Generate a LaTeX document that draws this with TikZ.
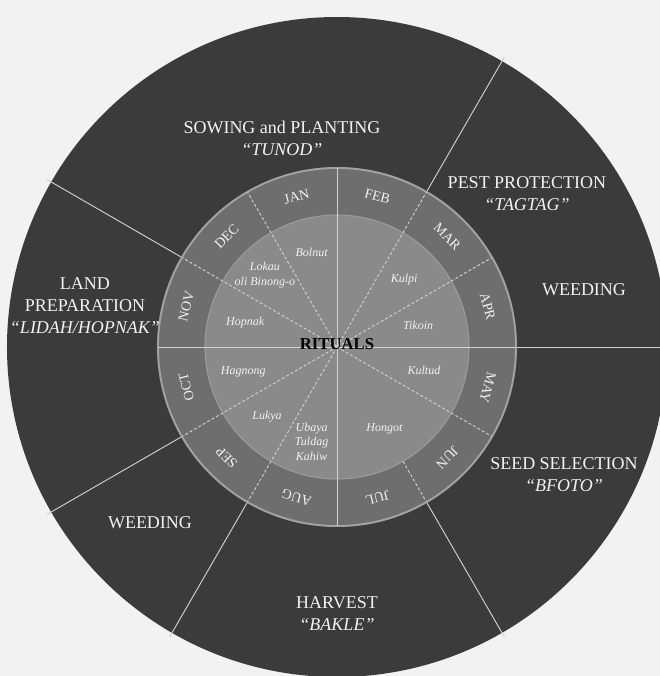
\documentclass[tikz,border=0pt]{standalone}
\usepackage{fontspec}
\setmainfont{Liberation Serif}
\usepackage{tikz}
\definecolor{paper}{HTML}{F2F2F2}
\definecolor{outerblk}{HTML}{3B3B3B}
\definecolor{monthblk}{HTML}{6E6E6E}
\definecolor{ritualblk}{HTML}{8A8A8A}
\definecolor{rimcol}{HTML}{A2A2A2}
\definecolor{divcol}{HTML}{D0D0D0}
\definecolor{lbltext}{HTML}{F2F2F2}
\tikzset{
  phase/.style    = {text=lbltext,align=center,inner sep=1pt,
                     font=\fontsize{13.5}{16.5}\selectfont},
  monthlbl/.style = {text=lbltext,inner sep=0pt,
                     font=\fontsize{10.5}{12}\selectfont},
  ritual/.style   = {text=lbltext,align=center,inner sep=0.5pt,
                     font=\fontsize{9}{11}\selectfont\itshape},
  divsolid/.style = {draw=divcol,line width=0.7pt},
  divdash/.style  = {draw=divcol,line width=0.7pt,dash pattern=on 2.2pt off 1.6pt},
}

\begin{document}
\begin{tikzpicture}[x=0.75pt,y=0.75pt]
  \useasboundingbox[fill=paper] (-337,-329) rectangle (323,347);
  % Discs
  \begin{scope}
    \clip (-337,-329) rectangle (323,347);
    \fill[outerblk] (0,0) circle[radius=330];
    \foreach \a in {0,60,150,210,240,300}
      \draw[divsolid] (\a:180) -- (\a:335);
  \end{scope}
  \fill[monthblk] (0,0) circle[radius=180];
  \draw[rimcol,line width=1.4pt] (0,0) circle[radius=179];
  \fill[ritualblk] (0,0) circle[radius=132];
  \draw[rimcol!70!ritualblk,line width=0.8pt] (0,0) circle[radius=132];
  % Month dividers
  \foreach \a in {30,60,120,150,210,240,330}
    \draw[divdash] (0,0) -- (\a:179);
  \draw[divdash] (300:132) -- (300:179);
  \foreach \a in {0,90,180,270}
    \draw[divsolid] (0,0) -- (\a:179);
  % Months
  \foreach \m [count=\i] in {JAN,FEB,MAR,APR,MAY,JUN,JUL,AUG,SEP,OCT,NOV,DEC}{
    \pgfmathsetmacro\mid{135-30*\i}
    \node[monthlbl,rotate=\mid-90] (m\i) at (\mid:156) {\m};
  }
  % Rituals
  \foreach \a/\r/\txt [count=\i] in {105/98/Bolnut, 135/102/{Lokau\\oli Binong-o},
      165/95/Hopnak, 195/97/Hagnong, 225/99/Lukya,
      255/98/{Ubaya\\Tuldag\\Kahiw}, 300/95/Hongot, 345/90/Kultud,
      15/84/Tikoin, 45/95/Kulpi}
    \node[ritual] (rit\i) at (\a:\r) {\txt};
  \node[inner sep=0pt,font=\fontsize{12.5}{14}\selectfont\bfseries] (rituals)
        at (0,3) {RITUALS};
  % Outer phases
  \node[phase] (sow)   at (-55,209)  {SOWING and PLANTING\\\textit{“TUNOD”}};
  \node[phase] (pest)  at (190,153)  {PEST PROTECTION\\\textit{“TAGTAG”}};
  \node[phase] (weedr) at (247,57)   {WEEDING};
  \node[phase] (seed)  at (227,-128) {SEED SELECTION\\\textit{“BFOTO”}};
  \node[phase] (harv)  at (0,-267)   {HARVEST\\\textit{“BAKLE”}};
  \node[phase] (weedl) at (-187,-176) {WEEDING};
  \node[phase] (land)  at (-252,41)  {LAND\\PREPARATION\\\textit{“LIDAH/HOPNAK”}};
\end{tikzpicture}
\end{document}
